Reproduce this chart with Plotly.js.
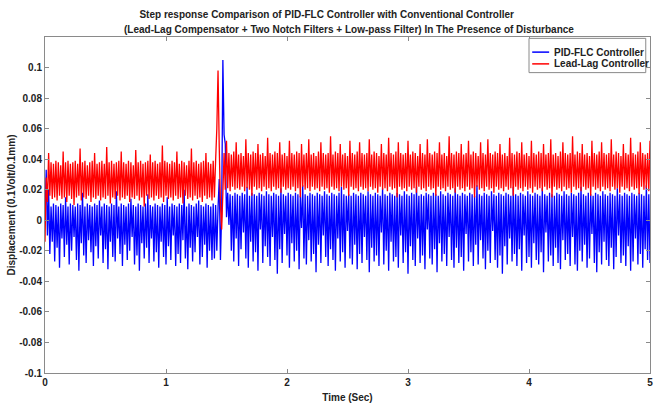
<!DOCTYPE html>
<html>
<head>
<meta charset="utf-8">
<script src="https://cdn.plot.ly/plotly-3.0.1.min.js"></script>
<style>html,body{margin:0;padding:0;background:#fff;}#chart{width:654px;height:405px;}</style>
</head>
<body>
<div id="chart"></div>
<script>
// Sampling interval of the recorded signals (seconds)
const sampleStep = 0.01;

// PID-FLC Controller response (t = 0 ... 5 s, one row = 0.1 s)
const pidFlc = [
 0.000, 0.033,-0.010, 0.020,-0.022, 0.009,-0.014, 0.011,-0.027, 0.010,
-0.018, 0.009,-0.031, 0.011,-0.012, 0.010,-0.024, 0.015,-0.016, 0.009,
-0.029, 0.011,-0.020, 0.010,-0.011, 0.009,-0.026, 0.011,-0.033, 0.010,
-0.015, 0.018,-0.023, 0.009,-0.028, 0.011,-0.013, 0.010,-0.021, 0.009,
-0.030, 0.011,-0.017, 0.010,-0.025, 0.013,-0.010, 0.009,-0.028, 0.011,
-0.019, 0.010,-0.032, 0.009,-0.014, 0.011,-0.024, 0.010,-0.027, 0.019,
-0.012, 0.009,-0.022, 0.011,-0.030, 0.010,-0.016, 0.009,-0.026, 0.011,
-0.020, 0.014,-0.011, 0.010,-0.029, 0.009,-0.023, 0.011,-0.033, 0.010,
-0.015, 0.009,-0.025, 0.011,-0.018, 0.017,-0.028, 0.010,-0.012, 0.009,
-0.027, 0.011,-0.021, 0.010,-0.031, 0.009,-0.014, 0.011,-0.024, 0.010,
-0.029, 0.015,-0.017, 0.009,-0.026, 0.011,-0.010, 0.010,-0.030, 0.009,
-0.022, 0.011,-0.028, 0.010,-0.013, 0.020,-0.025, 0.009,-0.032, 0.011,
-0.018, 0.010,-0.027, 0.009,-0.021, 0.011,-0.011, 0.013,-0.029, 0.010,
-0.024, 0.009,-0.016, 0.011,-0.031, 0.010,-0.020, 0.009,-0.026, 0.011,
-0.025, 0.010,-0.020, 0.008, 0.027,-0.026, 0.005, 0.105, 0.056, 0.050,
 0.002, 0.018,-0.003, 0.017,-0.020, 0.016,-0.027, 0.018,-0.012, 0.017,
-0.030, 0.016,-0.019, 0.018,-0.008, 0.017,-0.025, 0.022,-0.031, 0.016,
-0.014, 0.018,-0.027, 0.017,-0.021, 0.016,-0.033, 0.018,-0.006, 0.017,
-0.028, 0.016,-0.017, 0.019,-0.024, 0.017,-0.030, 0.016,-0.011, 0.018,
-0.026, 0.017,-0.035, 0.016,-0.019, 0.021,-0.028, 0.017,-0.009, 0.016,
-0.023, 0.018,-0.031, 0.017,-0.015, 0.016,-0.027, 0.018,-0.020, 0.017,
-0.032, 0.016,-0.005, 0.023,-0.025, 0.017,-0.029, 0.016,-0.013, 0.018,
-0.027, 0.017,-0.022, 0.016,-0.034, 0.018,-0.016, 0.017,-0.028, 0.016,
-0.010, 0.019,-0.024, 0.017,-0.030, 0.016,-0.019, 0.018,-0.026, 0.017,
-0.033, 0.016,-0.012, 0.018,-0.027, 0.022,-0.021, 0.017,-0.031, 0.016,
-0.007, 0.017,-0.025, 0.016,-0.029, 0.018,-0.016, 0.017,-0.032, 0.016,
-0.022, 0.018,-0.028, 0.017,-0.011, 0.016,-0.026, 0.019,-0.034, 0.017,
-0.018, 0.016,-0.027, 0.018,-0.023, 0.017,-0.030, 0.016,-0.008, 0.021,
-0.029, 0.017,-0.020, 0.016,-0.033, 0.018,-0.014, 0.017,-0.027, 0.016,
-0.024, 0.018,-0.031, 0.017,-0.010, 0.016,-0.028, 0.019,-0.021, 0.017,
-0.035, 0.016,-0.017, 0.018,-0.026, 0.017,-0.030, 0.022,-0.012, 0.016,
-0.028, 0.017,-0.023, 0.016,-0.032, 0.018,-0.006, 0.017,-0.025, 0.016,
-0.029, 0.018,-0.019, 0.017,-0.034, 0.016,-0.015, 0.019,-0.027, 0.017,
-0.022, 0.016,-0.030, 0.018,-0.011, 0.017,-0.026, 0.016,-0.031, 0.021,
-0.018, 0.017,-0.028, 0.016,-0.024, 0.018,-0.033, 0.017,-0.009, 0.016,
-0.027, 0.018,-0.021, 0.017,-0.030, 0.016,-0.016, 0.023,-0.029, 0.017,
-0.013, 0.016,-0.025, 0.018,-0.032, 0.017,-0.020, 0.016,-0.028, 0.019,
-0.007, 0.017,-0.026, 0.016,-0.031, 0.018,-0.023, 0.017,-0.035, 0.016,
-0.017, 0.018,-0.029, 0.017,-0.012, 0.016,-0.027, 0.022,-0.022, 0.017,
-0.030, 0.016,-0.019, 0.018,-0.033, 0.017,-0.010, 0.016,-0.028, 0.019,
-0.024, 0.017,-0.031, 0.016,-0.015, 0.018,-0.026, 0.017,-0.029, 0.016,
-0.021, 0.021,-0.034, 0.017,-0.008, 0.016,-0.027, 0.018,-0.023, 0.017,
-0.030, 0.016,-0.018, 0.018,-0.028, 0.017,-0.032, 0.016,-0.013, 0.019,
-0.026, 0.017,-0.022, 0.016,-0.030, 0.018,-0.011, 0.017,-0.029, 0.016,
-0.033, 0.018,-0.020, 0.022,-0.027, 0.017,-0.016, 0.016,-0.031, 0.018,
-0.025, 0.017,-0.009, 0.016,-0.028, 0.018,-0.034, 0.017,-0.021, 0.016,
-0.029, 0.019,-0.014, 0.017,-0.026, 0.016,-0.030, 0.018,-0.018, 0.017,
-0.032, 0.016,-0.024, 0.021,-0.010, 0.017,-0.028, 0.016,-0.023, 0.018,
-0.030, 0.017,-0.017, 0.016,-0.033, 0.018,-0.027, 0.017,-0.012, 0.016,
-0.029, 0.018,-0.022, 0.017,-0.031, 0.016,-0.019, 0.023,-0.026, 0.017,
-0.028
];

// Lead-Lag Controller response (t = 0 ... 5 s, one row = 0.1 s)
const leadLag = [
-0.014, 0.028, 0.012, 0.044, 0.016, 0.038, 0.014, 0.037, 0.015, 0.039,
 0.013, 0.038, 0.016, 0.036, 0.014, 0.045, 0.015, 0.038, 0.012, 0.039,
 0.016, 0.037, 0.014, 0.038, 0.010, 0.039, 0.015, 0.037, 0.016, 0.047,
 0.013, 0.038, 0.015, 0.039, 0.014, 0.036, 0.016, 0.038, 0.012, 0.039,
 0.015, 0.044, 0.014, 0.037, 0.016, 0.038, 0.013, 0.039, 0.015, 0.037,
 0.014, 0.048, 0.016, 0.038, 0.011, 0.039, 0.015, 0.037, 0.014, 0.038,
 0.016, 0.039, 0.013, 0.045, 0.015, 0.038, 0.014, 0.037, 0.016, 0.039,
 0.012, 0.038, 0.015, 0.036, 0.014, 0.046, 0.016, 0.038, 0.013, 0.039,
 0.015, 0.037, 0.009, 0.038, 0.016, 0.039, 0.014, 0.043, 0.015, 0.038,
 0.013, 0.039, 0.016, 0.037, 0.014, 0.038, 0.015, 0.049, 0.012, 0.039,
 0.016, 0.038, 0.014, 0.037, 0.015, 0.039, 0.013, 0.038, 0.016, 0.045,
 0.014, 0.037, 0.015, 0.039, 0.011, 0.038, 0.016, 0.036, 0.014, 0.039,
 0.015, 0.047, 0.013, 0.038, 0.016, 0.039, 0.014, 0.037, 0.015, 0.038,
 0.012, 0.039, 0.016, 0.044, 0.014, 0.038, 0.015, 0.037, 0.013, 0.039,
 0.015, 0.039, 0.060, 0.098, 0.048, 0.010,-0.006, 0.018, 0.044, 0.020,
 0.052, 0.021, 0.044, 0.019, 0.043, 0.022, 0.045, 0.020, 0.051, 0.021,
 0.043, 0.020, 0.044, 0.022, 0.042, 0.019, 0.053, 0.021, 0.044, 0.020,
 0.043, 0.016, 0.045, 0.022, 0.044, 0.020, 0.050, 0.021, 0.043, 0.019,
 0.044, 0.022, 0.042, 0.020, 0.054, 0.021, 0.044, 0.019, 0.043, 0.022,
 0.045, 0.020, 0.044, 0.021, 0.051, 0.018, 0.043, 0.022, 0.044, 0.020,
 0.042, 0.021, 0.052, 0.020, 0.044, 0.022, 0.043, 0.019, 0.045, 0.021,
 0.044, 0.015, 0.050, 0.022, 0.043, 0.020, 0.044, 0.021, 0.053, 0.019,
 0.043, 0.022, 0.044, 0.020, 0.042, 0.021, 0.045, 0.019, 0.051, 0.022,
 0.044, 0.020, 0.043, 0.021, 0.044, 0.018, 0.055, 0.022, 0.043, 0.020,
 0.045, 0.021, 0.044, 0.019, 0.050, 0.022, 0.043, 0.020, 0.044, 0.021,
 0.042, 0.016, 0.052, 0.022, 0.044, 0.020, 0.043, 0.021, 0.045, 0.019,
 0.051, 0.022, 0.044, 0.020, 0.043, 0.021, 0.044, 0.019, 0.053, 0.022,
 0.043, 0.020, 0.045, 0.021, 0.044, 0.018, 0.042, 0.022, 0.050, 0.020,
 0.044, 0.021, 0.043, 0.019, 0.054, 0.022, 0.044, 0.020, 0.043, 0.021,
 0.045, 0.015, 0.051, 0.022, 0.044, 0.020, 0.043, 0.021, 0.044, 0.019,
 0.052, 0.022, 0.043, 0.020, 0.045, 0.021, 0.044, 0.018, 0.042, 0.022,
 0.050, 0.020, 0.044, 0.021, 0.043, 0.019, 0.053, 0.022, 0.044, 0.020,
 0.043, 0.021, 0.045, 0.016, 0.044, 0.022, 0.051, 0.020, 0.043, 0.021,
 0.044, 0.019, 0.042, 0.022, 0.055, 0.020, 0.044, 0.021, 0.043, 0.018,
 0.045, 0.022, 0.044, 0.020, 0.050, 0.021, 0.043, 0.019, 0.044, 0.022,
 0.052, 0.020, 0.043, 0.021, 0.045, 0.015, 0.044, 0.022, 0.042, 0.020,
 0.051, 0.021, 0.044, 0.019, 0.043, 0.022, 0.053, 0.020, 0.044, 0.021,
 0.043, 0.018, 0.045, 0.022, 0.044, 0.020, 0.050, 0.021, 0.043, 0.019,
 0.044, 0.022, 0.042, 0.020, 0.054, 0.021, 0.044, 0.016, 0.043, 0.022,
 0.045, 0.020, 0.044, 0.021, 0.051, 0.019, 0.043, 0.022, 0.044, 0.020,
 0.042, 0.021, 0.052, 0.018, 0.044, 0.022, 0.043, 0.020, 0.045, 0.021,
 0.044, 0.019, 0.050, 0.022, 0.043, 0.020, 0.044, 0.021, 0.053, 0.015,
 0.043, 0.022, 0.044, 0.020, 0.042, 0.021, 0.045, 0.019, 0.051, 0.022,
 0.044, 0.020, 0.043, 0.021, 0.044, 0.018, 0.055, 0.022, 0.043, 0.020,
 0.045, 0.021, 0.044, 0.019, 0.050, 0.022, 0.043, 0.020, 0.044, 0.021,
 0.042, 0.016, 0.052, 0.022, 0.044, 0.020, 0.043, 0.021, 0.045, 0.019,
 0.051, 0.022, 0.044, 0.020, 0.043, 0.021, 0.044, 0.019, 0.053, 0.022,
 0.043, 0.020, 0.045, 0.021, 0.044, 0.018, 0.042, 0.022, 0.050, 0.020,
 0.044, 0.021, 0.043, 0.019, 0.054, 0.022, 0.044, 0.020, 0.043, 0.021,
 0.045, 0.017, 0.051, 0.022, 0.044, 0.020, 0.043, 0.021, 0.044, 0.019,
 0.052
];

const seriesNames = ['PID-FLC Controller', 'Lead-Lag Controller'];
const seriesColors = ['#0000ff', '#ff0000'];

const xTickVals = [0, 1, 2, 3, 4, 5];
const xTickText = ['0', '1', '2', '3', '4', '5'];
const yTickVals = [-0.1, -0.08, -0.06, -0.04, -0.02, 0, 0.02, 0.04, 0.06, 0.08, 0.1];
const yTickText = ['-0.1', '-0.08', '-0.06', '-0.04', '-0.02', '0', '0.02', '0.04', '0.06', '0.08', '0.1'];

const titleLine1 = 'Step response Comparison of PID-FLC Controller with Conventional Controller';
const titleLine2 = '(Lead-Lag Compensator + Two Notch Filters + Low-pass Filter) In The Presence of Disturbance';
const xTitle = 'Time (Sec)';
const yTitle = 'Displacement (0.1Volt/0.1mm)';

const fontFam = '"Liberation Sans", Arial, sans-serif';
const txt = '#222222';
const boldFont = (s) => ({ family: fontFam, size: s, color: txt, weight: 700 });

const traces = [pidFlc, leadLag].map((vals, i) => ({
  type: 'scatter',
  mode: 'lines',
  name: seriesNames[i],
  x0: 0,
  dx: sampleStep,
  y: vals,
  line: { color: seriesColors[i], width: 1.3, simplify: false }
}));

const axisCommon = {
  showgrid: false,
  zeroline: false,
  showline: true,
  linecolor: '#8a8a8a',
  linewidth: 1,
  mirror: 'ticks',
  ticks: 'inside',
  ticklen: 4,
  tickcolor: '#8a8a8a',
  tickfont: boldFont(10)
};

// Hand-built legend box (layout decoration, paper coordinates)
const legendBox = { x0: 0.800, x1: 0.993, y0: 0.894, y1: 0.996 };
const legendRows = [0.955, 0.920];
const legendShapes = [{
  type: 'rect', xref: 'paper', yref: 'paper',
  x0: legendBox.x0, x1: legendBox.x1, y0: legendBox.y0, y1: legendBox.y1,
  line: { color: '#8a8a8a', width: 1 }, fillcolor: '#ffffff', layer: 'above'
}].concat(seriesNames.map((n, i) => ({
  type: 'line', xref: 'paper', yref: 'paper',
  x0: 0.8053, x1: 0.8333, y0: legendRows[i], y1: legendRows[i],
  line: { color: seriesColors[i], width: 1.5 }, layer: 'above'
})));
const annotations = seriesNames.map((n, i) => ({
  xref: 'paper', yref: 'paper', x: 0.838, y: legendRows[i],
  xanchor: 'left', yanchor: 'middle', showarrow: false,
  text: n, font: boldFont(10)
}));
annotations.push({
  xref: 'paper', yref: 'paper', x: 0.5025, y: 1.0, yshift: 8,
  xanchor: 'center', yanchor: 'middle', showarrow: false,
  text: titleLine2, font: boldFont(10)
});

const layout = {
  width: 654,
  height: 405,
  paper_bgcolor: '#ffffff',
  plot_bgcolor: '#ffffff',
  margin: { l: 45, r: 4, t: 37, b: 32 },
  showlegend: false,
  title: {
    text: titleLine1,
    font: boldFont(10),
    x: 0.4995, xanchor: 'center', xref: 'container',
    y: 0.963, yanchor: 'middle', yref: 'container'
  },
  xaxis: Object.assign({}, axisCommon, {
    range: [0, 5],
    tickmode: 'array',
    tickvals: xTickVals,
    ticktext: xTickText,
    title: { text: xTitle, font: boldFont(10), standoff: 6 }
  }),
  yaxis: Object.assign({}, axisCommon, {
    range: [-0.1, 0.12],
    tickmode: 'array',
    tickvals: yTickVals,
    ticktext: yTickText,
    title: { text: yTitle, font: boldFont(10), standoff: 1 }
  }),
  shapes: legendShapes,
  annotations: annotations
};

Plotly.newPlot('chart', traces, layout, { staticPlot: true, displayModeBar: false });
</script>
</body>
</html>
